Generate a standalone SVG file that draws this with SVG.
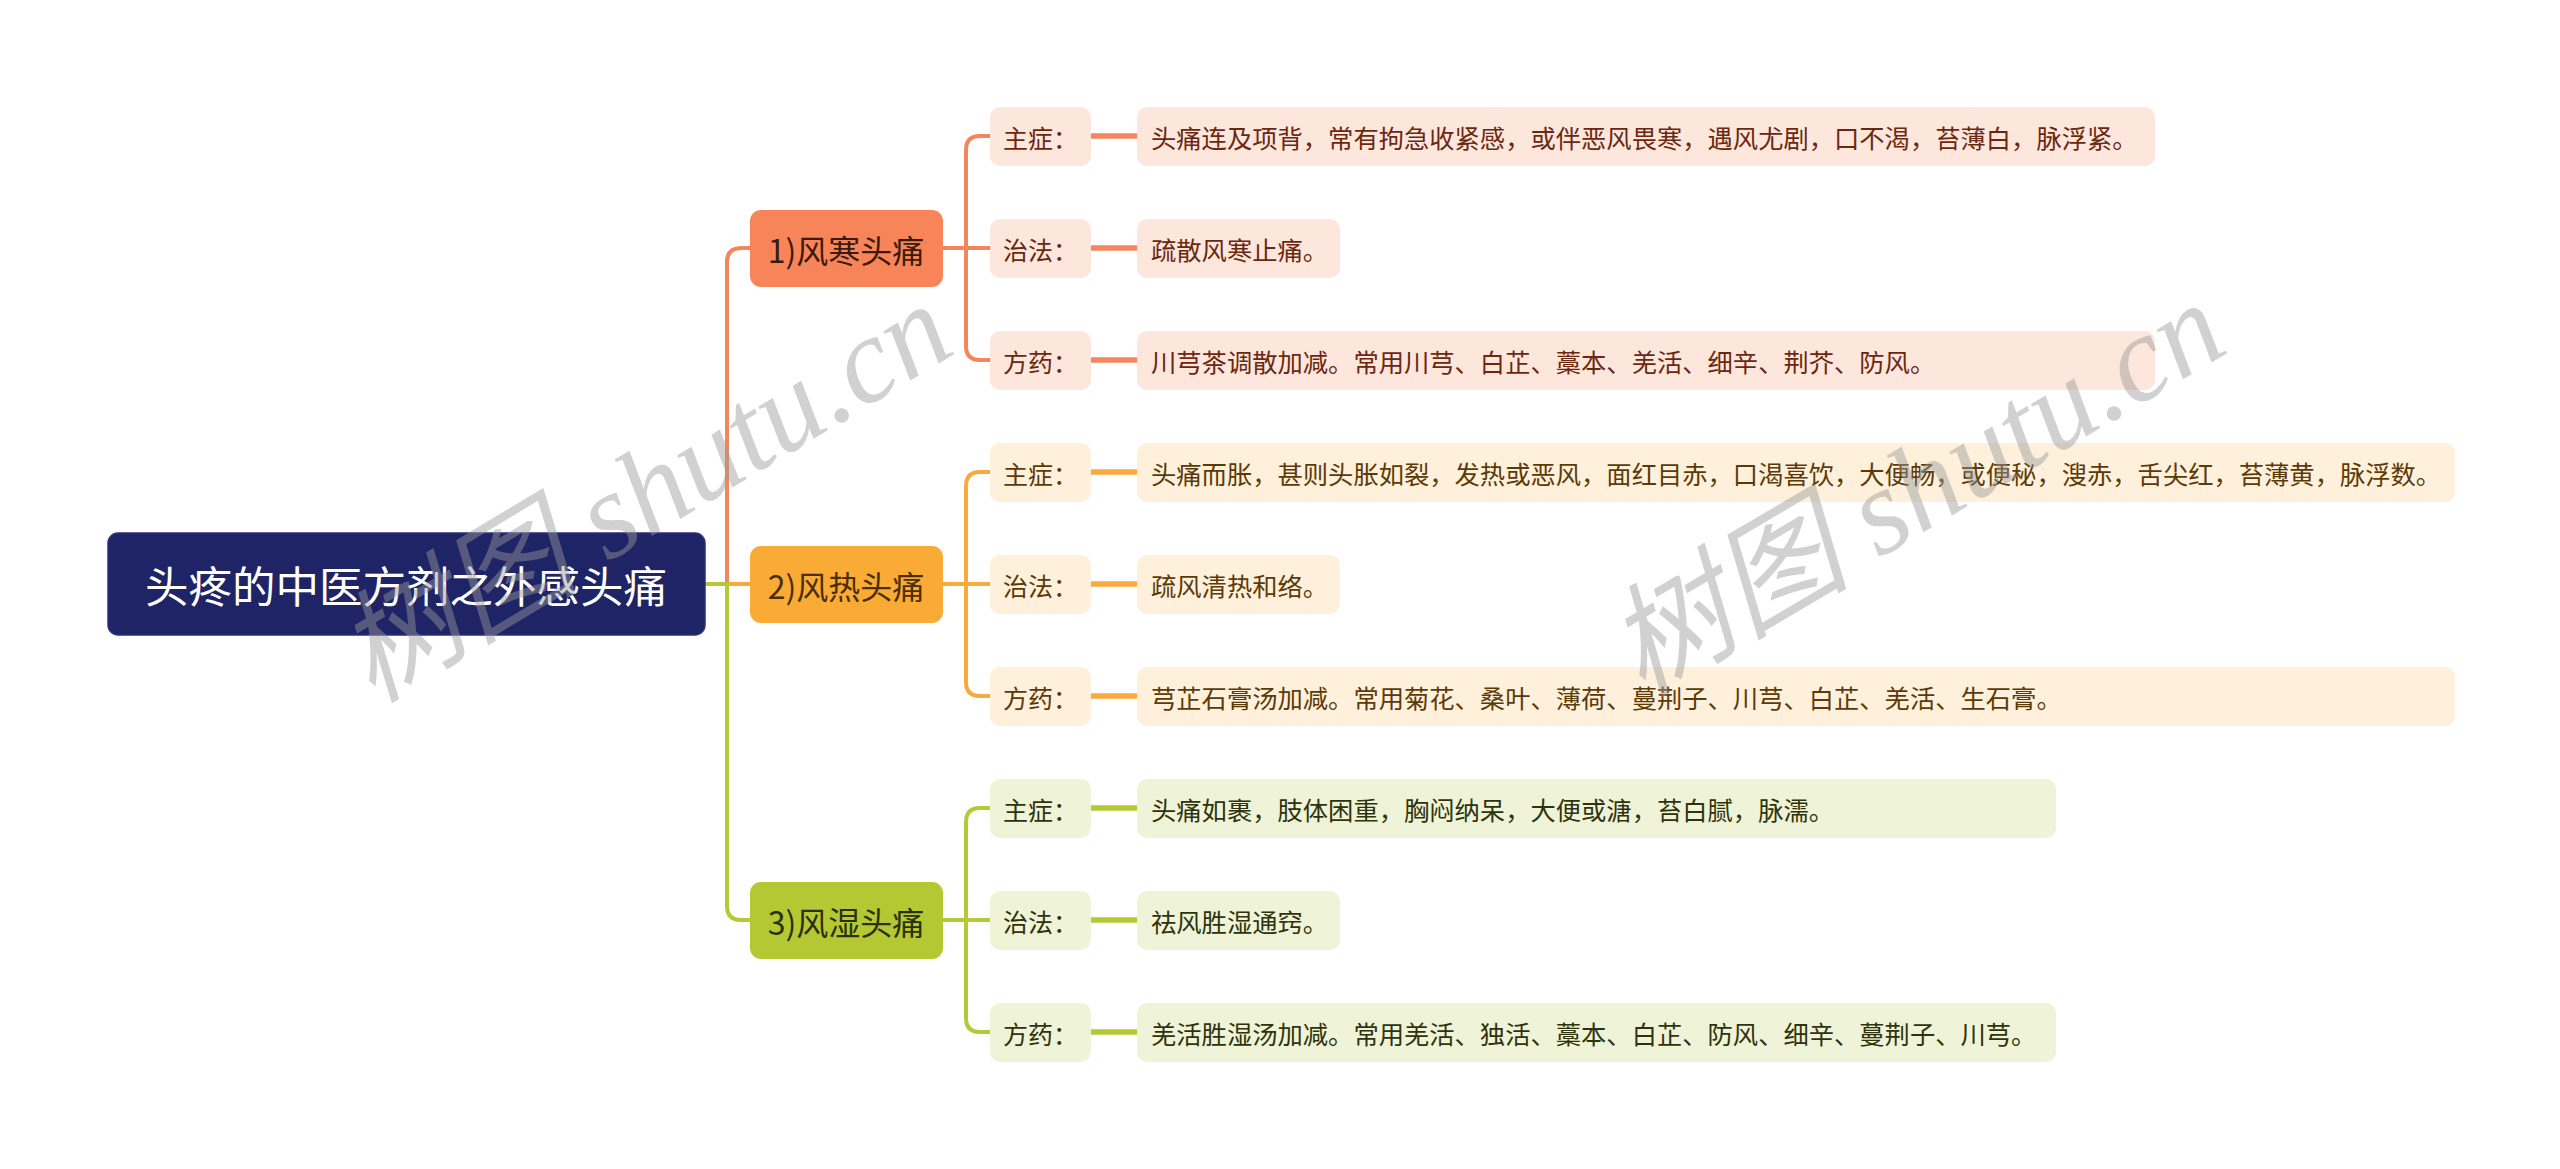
<svg xmlns="http://www.w3.org/2000/svg" width="2560" height="1169" viewBox="0 0 2560 1169">
<style>
text{font-family:"Noto Sans CJK SC","Noto Sans",sans-serif;dominant-baseline:central}
.root{font-size:43.5px;fill:#ffffff;text-anchor:middle}
.br{font-size:32px;text-anchor:middle}
.lb{font-size:25px}
.ct{font-size:25.3px}
.c1{stroke:#f3865b}
.c2{stroke:#f7ab3c}
.c3{stroke:#b4c936}
#connectors path{fill:none;stroke-width:4;stroke-linecap:round}
#connectors path.thick{stroke-width:5.5;stroke-linecap:butt}
.f1{fill:#fde6dc}.f2{fill:#fef0da}.f3{fill:#eff3d7}
.t1{fill:#6b2810}.t2{fill:#5c3a08}.t3{fill:#2e330d}
.wm{font-family:"Liberation Serif","Noto Sans CJK SC",serif;font-style:italic;font-size:122px;fill:#9a9a9a;opacity:0.45;dominant-baseline:auto}
</style>
<rect width="2560" height="1169" fill="#ffffff"/>
<g id="connectors">
<path class="c3" d="M705 584 H727"/>
<path class="c1" d="M727 584 V262 Q727 248 741 248 H750"/>
<path class="c2" d="M727 584 H750"/>
<path class="c3" d="M727 584 V906 Q727 920 741 920 H750"/>
<path class="c1" d="M943 248 H990 M966 248 V150 Q966 136 980 136 H990 M966 248 V346 Q966 360 980 360 H990"/>
<path class="c2" d="M943 584 H990 M966 584 V486 Q966 472 980 472 H990 M966 584 V682 Q966 696 980 696 H990"/>
<path class="c3" d="M943 920 H990 M966 920 V822 Q966 808 980 808 H990 M966 920 V1018 Q966 1032 980 1032 H990"/>
<path class="c1 thick" d="M1091 136 H1137 M1091 248 H1137 M1091 360 H1137"/>
<path class="c2 thick" d="M1091 472 H1137 M1091 584 H1137 M1091 696 H1137"/>
<path class="c3 thick" d="M1091 808 H1137 M1091 920 H1137 M1091 1032 H1137"/>
</g>
<g id="root">
<rect x="108" y="533" width="597" height="102" rx="10" fill="#1f2466" stroke="#2a3278" stroke-width="1.5"/>
<text class="root" x="406" y="584">头疼的中医方剂之外感头痛</text>
</g>
<g id="b1">
<rect x="750" y="210" width="193" height="77" rx="11" fill="#f8855a"/>
<text class="br" x="846" y="249" fill="#3b1a0c">1)风寒头痛</text>
</g>
<g id="b2">
<rect x="750" y="546" width="193" height="77" rx="11" fill="#f9ab36"/>
<text class="br" x="846" y="585" fill="#4a2e04">2)风热头痛</text>
</g>
<g id="b3">
<rect x="750" y="882" width="193" height="77" rx="11" fill="#b4c834"/>
<text class="br" x="846" y="921" fill="#2a300a">3)风湿头痛</text>
</g>
<g id="b1-l1"><rect class="f1" x="990" y="107" width="101" height="59" rx="10"/><text class="lb t1" x="1003" y="137">主症：</text></g>
<g id="b1-c1"><rect class="f1" x="1137" y="107" width="1018" height="59" rx="10"/><text class="ct t1" x="1151" y="137">头痛连及项背，常有拘急收紧感，或伴恶风畏寒，遇风尤剧，口不渴，苔薄白，脉浮紧。</text></g>
<g id="b1-l2"><rect class="f1" x="990" y="219" width="101" height="59" rx="10"/><text class="lb t1" x="1003" y="249">治法：</text></g>
<g id="b1-c2"><rect class="f1" x="1137" y="219" width="203" height="59" rx="10"/><text class="ct t1" x="1151" y="249">疏散风寒止痛。</text></g>
<g id="b1-l3"><rect class="f1" x="990" y="331" width="101" height="59" rx="10"/><text class="lb t1" x="1003" y="361">方药：</text></g>
<g id="b1-c3"><rect class="f1" x="1137" y="331" width="1018" height="59" rx="10"/><text class="ct t1" x="1151" y="361">川芎茶调散加减。常用川芎、白芷、藁本、羌活、细辛、荆芥、防风。</text></g>
<g id="b2-l1"><rect class="f2" x="990" y="443" width="101" height="59" rx="10"/><text class="lb t2" x="1003" y="473">主症：</text></g>
<g id="b2-c1"><rect class="f2" x="1137" y="443" width="1318" height="59" rx="10"/><text class="ct t2" x="1151" y="473">头痛而胀，甚则头胀如裂，发热或恶风，面红目赤，口渴喜饮，大便畅，或便秘，溲赤，舌尖红，苔薄黄，脉浮数。</text></g>
<g id="b2-l2"><rect class="f2" x="990" y="555" width="101" height="59" rx="10"/><text class="lb t2" x="1003" y="585">治法：</text></g>
<g id="b2-c2"><rect class="f2" x="1137" y="555" width="203" height="59" rx="10"/><text class="ct t2" x="1151" y="585">疏风清热和络。</text></g>
<g id="b2-l3"><rect class="f2" x="990" y="667" width="101" height="59" rx="10"/><text class="lb t2" x="1003" y="697">方药：</text></g>
<g id="b2-c3"><rect class="f2" x="1137" y="667" width="1318" height="59" rx="10"/><text class="ct t2" x="1151" y="697">芎芷石膏汤加减。常用菊花、桑叶、薄荷、蔓荆子、川芎、白芷、羌活、生石膏。</text></g>
<g id="b3-l1"><rect class="f3" x="990" y="779" width="101" height="59" rx="10"/><text class="lb t3" x="1003" y="809">主症：</text></g>
<g id="b3-c1"><rect class="f3" x="1137" y="779" width="919" height="59" rx="10"/><text class="ct t3" x="1151" y="809">头痛如裹，肢体困重，胸闷纳呆，大便或溏，苔白腻，脉濡。</text></g>
<g id="b3-l2"><rect class="f3" x="990" y="891" width="101" height="59" rx="10"/><text class="lb t3" x="1003" y="921">治法：</text></g>
<g id="b3-c2"><rect class="f3" x="1137" y="891" width="203" height="59" rx="10"/><text class="ct t3" x="1151" y="921">祛风胜湿通窍。</text></g>
<g id="b3-l3"><rect class="f3" x="990" y="1003" width="101" height="59" rx="10"/><text class="lb t3" x="1003" y="1033">方药：</text></g>
<g id="b3-c3"><rect class="f3" x="1137" y="1003" width="919" height="59" rx="10"/><text class="ct t3" x="1151" y="1033">羌活胜湿汤加减。常用羌活、独活、藁本、白芷、防风、细辛、蔓荆子、川芎。</text></g>
<g id="watermark">
<text class="wm" x="372" y="704" transform="rotate(-31 372 704)">树图 shutu.cn</text>
<text class="wm" x="1642" y="698" transform="rotate(-30.5 1642 698)">树图 shutu.cn</text>
</g>
</svg>
